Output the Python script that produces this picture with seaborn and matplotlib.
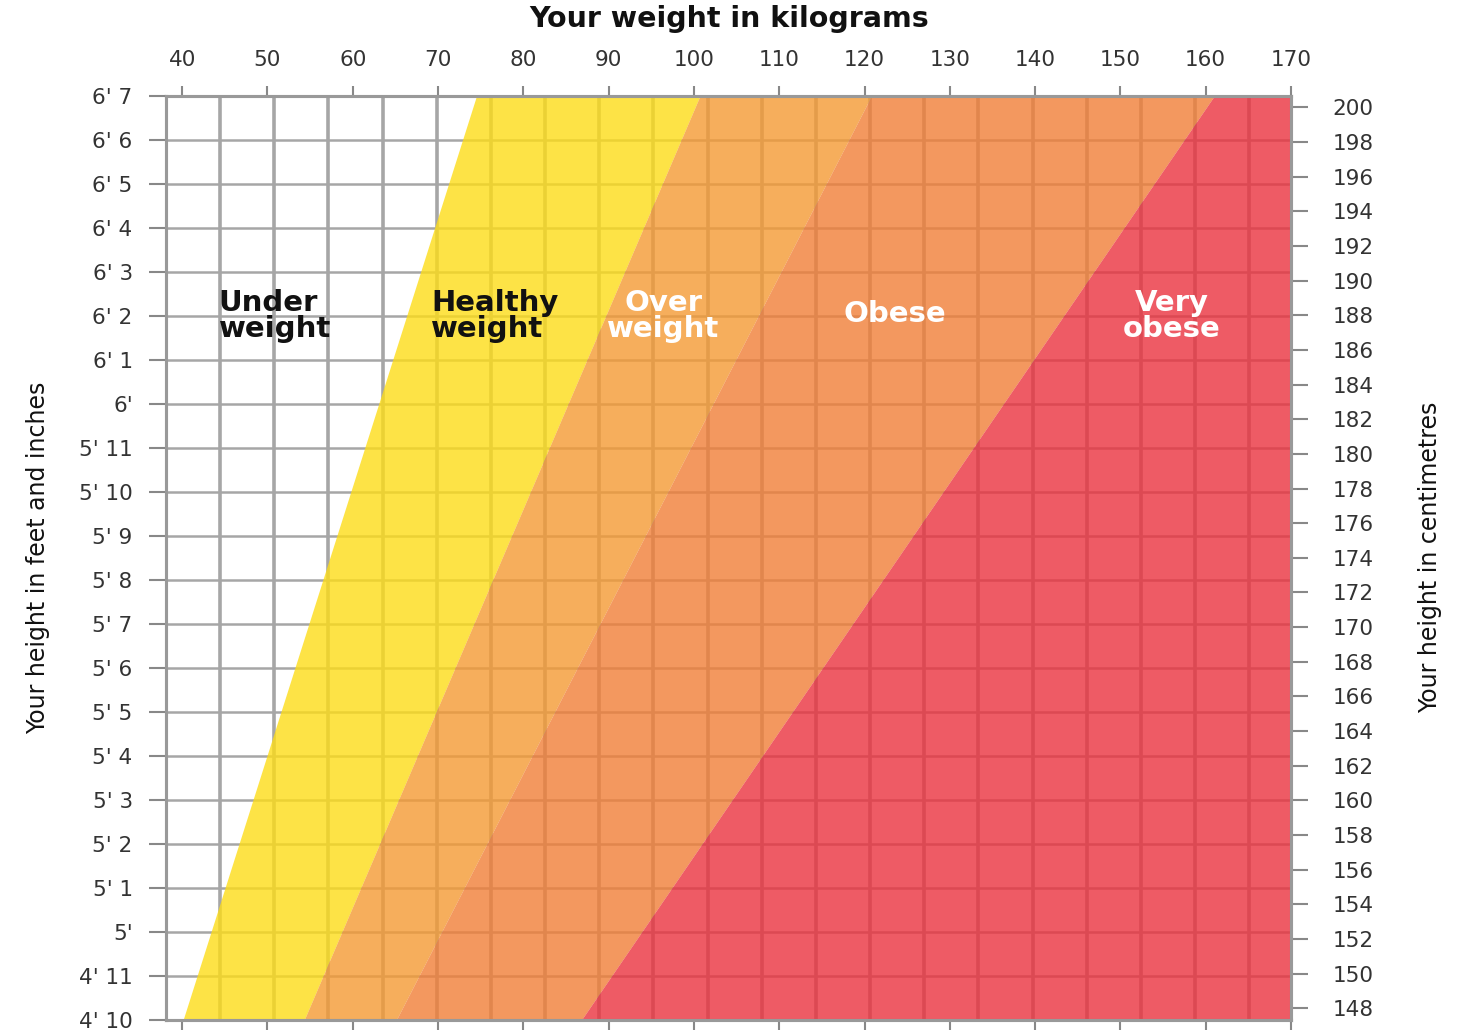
import numpy as np
import matplotlib
matplotlib.use("Agg")
import matplotlib.pyplot as plt
import seaborn as sns

# heights (inches) at the bottom and top of the chart
heights_in = [58, 79]
# weight (kg) where each band boundary meets the bottom / top of the chart
underweight_edge = [40.1, 74.5]
healthy_edge = [54.3, 100.7]
overweight_edge = [65.1, 120.8]
obese_edge = [86.8, 161.0]
weight_max = 170

band_colors = ['#fddc18', '#f49a33', '#f07e37', '#ea323e']

kg_ticks = [40, 50, 60, 70, 80, 90, 100, 110, 120, 130, 140, 150, 160, 170]
inch_ticks = list(range(58, 80))
inch_labels = ["4' 10", "4' 11", "5'", "5' 1", "5' 2", "5' 3", "5' 4", "5' 5",
               "5' 6", "5' 7", "5' 8", "5' 9", "5' 10", "5' 11", "6'", "6' 1",
               "6' 2", "6' 3", "6' 4", "6' 5", "6' 6", "6' 7"]
cm_ticks = list(range(148, 201, 2))

band_names = ["Under\nweight", "Healthy\nweight", "Over\nweight", "Obese", "Very\nobese"]
name_x = [44.3, 69.2, 96.4, 123.5, 156.0]
name_y = [74.0, 74.0, 74.0, 74.05, 74.0]
name_ha = ['left', 'left', 'center', 'center', 'center']
name_color = ['#111111', '#111111', 'white', 'white', 'white']

sns.set_theme(style='white')
plt.rcParams['font.family'] = ['DejaVu Sans']

fig = plt.figure(figsize=(14.65, 10.3), dpi=100)
ax = fig.add_axes([0.1133, 0.0097, 0.7679, 0.8971])

# grid: every stone (vertical), every inch (horizontal)
stone = 6.35029
for st in range(7, 27):
    ax.axvline(st * stone, color='#a6a6a6', lw=2.6, zorder=0.5)
for h in inch_ticks[1:-1]:
    ax.axhline(h, color='#a6a6a6', lw=1.8, zorder=0.5)

edges = [underweight_edge, healthy_edge, overweight_edge, obese_edge,
         [weight_max, weight_max]]
for i in range(4):
    ax.fill_betweenx(heights_in, edges[i], edges[i + 1], color=band_colors[i],
                     alpha=0.8, lw=0, zorder=1)

for name, x, y, ha, c in zip(band_names, name_x, name_y, name_ha, name_color):
    ax.text(x, y, name, ha=ha, va='center', fontsize=21, fontweight='bold',
            color=c, linespacing=0.95, zorder=3)

ax.set_xlim(38.1, weight_max)
ax.set_ylim(heights_in[0], heights_in[1])
ax.set_xticks(kg_ticks)
ax.set_xticklabels([str(k) for k in kg_ticks])
ax.set_yticks(inch_ticks)
ax.set_yticklabels(inch_labels)
ax.tick_params(axis='x', top=True, bottom=True, labeltop=True, labelbottom=False,
               direction='out', length=7, width=1.5, color='#888888',
               labelsize=15.5, labelcolor='#333333', pad=12)
ax.tick_params(axis='y', left=True, direction='out', length=12, width=1.5,
               color='#888888', labelsize=15.5, labelcolor='#333333', pad=12)

ax2 = ax.twinx()
ax2.set_ylim(heights_in[0] * 2.54, heights_in[1] * 2.54)
ax2.set_yticks(cm_ticks)
ax2.set_yticklabels([str(c) for c in cm_ticks])
ax2.tick_params(axis='y', right=True, direction='out', length=12, width=1.5,
                color='#888888', labelsize=15.5, labelcolor='#333333', pad=18)
ax2.grid(False)
ax.grid(False)

for a in (ax, ax2):
    for s in a.spines.values():
        s.set_color('#999999')
        s.set_linewidth(2.2)
        s.set_zorder(4)

fig.text(0.498, 0.982, "Your weight in kilograms", ha='center', va='center',
         fontsize=20.5, fontweight='bold', color='#111111')
fig.text(0.026, 0.458, "Your height in feet and inches", rotation=90,
         ha='center', va='center', fontsize=17, color='#111111',
         family=['DejaVu Sans Condensed', 'DejaVu Sans'])
fig.text(0.976, 0.459, "Your height in centimetres", rotation=90,
         ha='center', va='center', fontsize=17, color='#111111',
         family=['DejaVu Sans Condensed', 'DejaVu Sans'])

fig.savefig("out.png", dpi=100)
